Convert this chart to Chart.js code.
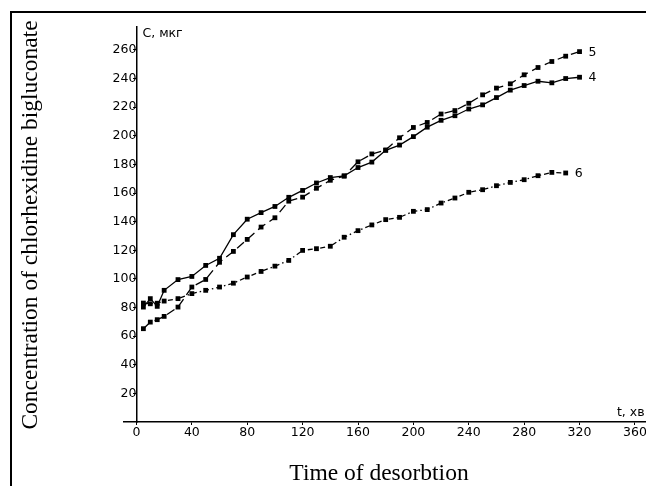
<!DOCTYPE html>
<html>
<head>
<meta charset="utf-8">
<script src="https://cdn.jsdelivr.net/npm/chart.js@4"></script>
<style>
  html, body { margin: 0; padding: 0; background: #fff; overflow: hidden; }
  #wrap { position: relative; width: 646px; height: 486px; overflow: hidden; }
  #frame { position: absolute; left: 10px; top: 11px; width: 700px; height: 600px; border: 2px solid #000; box-sizing: border-box; pointer-events: none; }
  canvas { position: absolute; left: 0; top: 0; }
</style>
</head>
<body>
<div id="wrap">
  <canvas id="chart" width="646" height="486"></canvas>
  <div id="frame"></div>
</div>
<script>
// time, min
const times = [5, 10, 15, 20, 30, 40, 50, 60, 70, 80, 90, 100, 110, 120, 130, 140, 150,
  160, 170, 180, 190, 200, 210, 220, 230, 240, 250, 260, 270, 280, 290, 300, 310, 320];

// curve 4 (solid)
const curve4 = [80.3, 86.2, 80.8, 92, 99.5, 101.7, 109.4, 114.4, 130.9, 141.7, 146.3, 150.6, 157, 161.8,
  167, 170.8, 172, 177.8, 181.6, 189.8, 193.5, 199.4, 206, 210.8, 214, 218.7, 221.6, 226.7, 231.9,
  235.1, 238.1, 237, 240, 240.9];

// curve 5 (dashed)
const curve5 = [65.2, 69.8, 71.5, 73.8, 80.3, 94.3, 99.6, 111.6, 119.2, 127.6, 136.2, 142.7, 154.3, 157.1,
  163.3, 168.9, 171.8, 181.8, 187.3, 190.1, 198.6, 205.8, 209.3, 215.2, 217.6, 222.7, 228.6, 233.3,
  236.3, 242.6, 247.7, 251.9, 255.6, 258.8];

// curve 6 (dash-dot), ends at 310
const curve6 = [83.1, 82.6, 83, 84.5, 86.2, 89.7, 92, 94.3, 97, 101.3, 105.2, 108.9, 112.9, 119.9,
  121.1, 122.8, 129.1, 133.7, 137.7, 141.4, 143, 147.2, 148.4, 153, 156.5, 160.5, 162.3, 165.1,
  167.4, 169.3, 172.1, 174.4, 174];

const xTicks = [0, 40, 80, 120, 160, 200, 240, 280, 320, 360];
const yTicks = [20, 40, 60, 80, 100, 120, 140, 160, 180, 200, 220, 240, 260];
const curveNames = ["4", "5", "6"];

const toPoints = (ys) => ys.map((y, i) => ({ x: times[i], y: y }));

const tickFont = { family: "'DejaVu Sans', sans-serif", size: 12.5 };

const labelsPlugin = {
  id: "labels",
  afterDraw(chart) {
    const ctx = chart.ctx;
    const xs = chart.scales.x, ys = chart.scales.y;
    const area = chart.chartArea;
    ctx.save();
    ctx.fillStyle = "#000";

    // axis titles
    ctx.font = "23.5px 'Liberation Serif', 'Times New Roman', serif";
    ctx.textAlign = "center";
    ctx.textBaseline = "middle";
    ctx.fillText("Time of desorbtion", 379, 474);
    ctx.save();
    ctx.translate(31, 225);
    ctx.rotate(-Math.PI / 2);
    ctx.fillText("Concentration of chlorhexidine bigluconate", 0, 0);
    ctx.restore();

    // axis unit captions
    ctx.font = "12.5px 'DejaVu Sans', sans-serif";
    ctx.textAlign = "left";
    ctx.fillText("C, мкг", xs.getPixelForValue(0) + 6, area.top + 7);
    ctx.fillText("t, хв", xs.getPixelForValue(360) - 18, ys.getPixelForValue(0) - 9);

    // curve numbers at last points
    chart.data.datasets.forEach((ds, i) => {
      const last = ds.data[ds.data.length - 1];
      ctx.fillText(curveNames[i], xs.getPixelForValue(last.x) + 9, ys.getPixelForValue(last.y) + 1);
    });
    ctx.restore();
  }
};

const lineStyle = (data, dash) => ({
  data: toPoints(data),
  borderColor: "#000",
  backgroundColor: "#000",
  borderWidth: 1.3,
  borderDash: dash,
  pointStyle: "rect",
  pointRadius: 3.4,
  pointBorderWidth: 0,
  tension: 0,
  fill: false,
  showLine: true
});

const noPad = (scale) => {
  scale.paddingLeft = 0;
  scale.paddingRight = 0;
  scale.paddingTop = 0;
  scale.paddingBottom = 0;
};

new Chart(document.getElementById("chart"), {
  type: "scatter",
  data: {
    datasets: [
      lineStyle(curve4, []),
      lineStyle(curve5, [9, 5]),
      lineStyle(curve6, [5, 3, 1.5, 3])
    ]
  },
  options: {
    responsive: false,
    animation: false,
    layout: { autoPadding: false, padding: { left: 124, top: 27, right: 0, bottom: 44 } },
    plugins: {
      legend: { display: false },
      tooltip: { enabled: false }
    },
    scales: {
      x: {
        type: "linear",
        min: -9,
        max: 368,
        afterFit: (scale) => { scale.height = 20; noPad(scale); },
        afterBuildTicks: (scale) => { scale.ticks = xTicks.map(v => ({ value: v })); },
        ticks: { color: "#000", font: tickFont, padding: 0, maxRotation: 0, autoSkip: false },
        grid: { display: true, drawOnChartArea: false, tickLength: 3, color: "#000", lineWidth: 1 },
        border: { display: true, color: "#000", width: 1.5 }
      },
      y: {
        type: "linear",
        position: { x: 0 },
        min: 0,
        max: 276,
        afterFit: noPad,
        afterBuildTicks: (scale) => { scale.ticks = yTicks.map(v => ({ value: v })); },
        ticks: { color: "#000", font: tickFont, padding: 4, autoSkip: false },
        grid: { display: true, drawOnChartArea: false, tickLength: 3, color: "#000", lineWidth: 1 },
        border: { display: true, color: "#000", width: 1.5 }
      }
    }
  },
  plugins: [labelsPlugin]
});
</script>
</body>
</html>
